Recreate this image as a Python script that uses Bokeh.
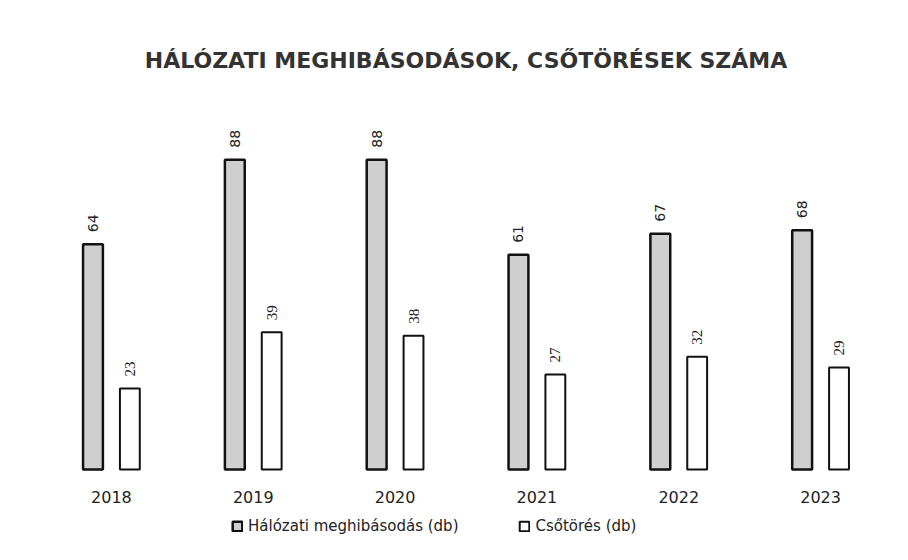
import math
from bokeh.plotting import figure
from bokeh.models import ColumnDataSource, FactorRange, Range1d, Legend, LegendItem
from bokeh.transform import dodge
from bokeh.core.properties import value
from bokeh.embed import file_html
from bokeh.resources import INLINE

years = ["2018", "2019", "2020", "2021", "2022", "2023"]
halozati = [64, 88, 88, 61, 67, 68]
csotores = [23, 39, 38, 27, 32, 29]
series_names = ["Hálózati meghibásodás (db)", "Csőtörés (db)"]
title_text = "HÁLÓZATI MEGHIBÁSODÁSOK, CSŐTÖRÉSEK SZÁMA"

src = ColumnDataSource(dict(
    year=years, h=halozati, c=csotores,
    hl=[str(v) for v in halozati], cl=[str(v) for v in csotores],
))

FONT = "DejaVu Sans"

p = figure(frame_width=851, frame_height=421, x_range=FactorRange(*years), y_range=Range1d(-19.6, 100),
           output_backend="svg", toolbar_location=None, title=title_text,
           min_border_left=40, min_border_right=2, min_border_top=113, min_border_bottom=0)
p.outline_line_color = None
p.xgrid.visible = False
p.ygrid.visible = False
p.yaxis.visible = False

p.title.align = "center"
p.title.text_font = FONT
p.title.text_font_style = "bold"
p.title.text_font_size = "22px"
p.title.text_color = "#333333"
p.title.standoff = 90

r1 = p.vbar(x=dodge("year", -0.13, range=p.x_range), top="h", width=0.14, source=src,
            fill_color="#cfcfcf", line_color="#111111", line_width=2.5)
r2 = p.vbar(x=dodge("year", 0.13, range=p.x_range), top="c", width=0.14, source=src,
            fill_color="white", line_color="#111111", line_width=2)

p.text(x=dodge("year", -0.13, range=p.x_range), y="h", text="hl", source=src,
       angle=math.pi / 2, text_align="left", text_baseline="middle", y_offset=-12,
       text_font=value(FONT), text_font_size="14px", text_color="#222222")
p.text(x=dodge("year", 0.13, range=p.x_range), y="c", text="cl", source=src,
       angle=math.pi / 2, text_align="left", text_baseline="middle", y_offset=-12,
       text_font=value("Liberation Serif"), text_font_size="15px", text_color="#222222")

ax = p.xaxis[0]
ax.fixed_location = 0
ax.axis_line_color = None
ax.major_tick_line_color = None
ax.minor_tick_line_color = None
ax.major_label_text_font = FONT
ax.major_label_text_font_size = "16px"
ax.major_label_text_color = "#222222"
ax.major_label_standoff = 15

legend = Legend(items=[LegendItem(label=series_names[0], renderers=[r1]),
                       LegendItem(label=series_names[1], renderers=[r2])],
                orientation="horizontal", location=(191, 3),
                border_line_color=None, background_fill_alpha=0,
                label_text_font=FONT, label_text_font_size="15px", label_text_color="#222222",
                glyph_width=12, glyph_height=12, spacing=60, padding=2, margin=0,
                label_standoff=5)
p.add_layout(legend)

open("out.html", "w").write(file_html(p, INLINE))
